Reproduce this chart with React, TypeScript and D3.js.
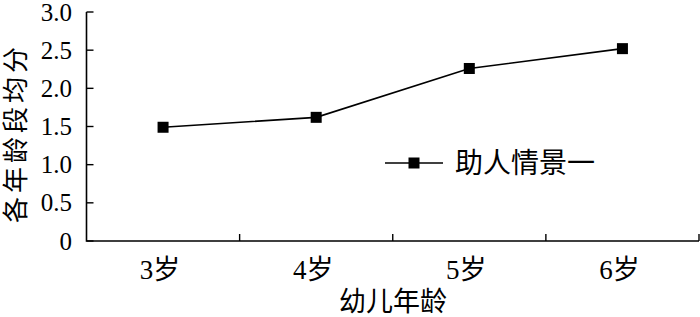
import React from "react";
import * as d3 from "d3";

const categories = ["3岁", "4岁", "5岁", "6岁"];
const values = [1.49, 1.62, 2.26, 2.52];
const yTicks = [0, 0.5, 1.0, 1.5, 2.0, 2.5, 3.0];
const seriesName = "助人情景一";
const xTitle = "幼儿年龄";
const yTitle = "各年龄段均分";

const W = 700;
const H = 317;
const left = 86.5;
const right = 699;
const top = 12;
const bottom = 241;
const FONT = "'Liberation Serif', 'Times New Roman', 'Noto Sans CJK SC', serif";

export default function App() {
  const x = d3.scaleBand<string>().domain(categories).range([left, right]);
  const y = d3.scaleLinear().domain([0, 3]).range([bottom, top]);
  const pts: [number, number][] = values.map((v, i) => [
    (x(categories[i]) as number) + x.bandwidth() / 2,
    y(v),
  ]);
  const line = d3.line();
  const xEdges = categories.map((c) => (x(c) as number) + x.bandwidth());

  return (
    <div style={{ position: "fixed", left: 0, top: 0 }}>
      <svg width={W} height={H} style={{ display: "block", background: "#fff" }}>
        {/* axes */}
        <path
          d={`M${left},${top}V${bottom}H${right}`}
          fill="none"
          stroke="#000"
          strokeWidth={1.6}
        />
        {yTicks.map((t) => (
          <g key={t}>
            <line x1={left} x2={left + 7} y1={y(t)} y2={y(t)} stroke="#000" strokeWidth={1.4} />
            <text
              x={72}
              y={y(t)}
              textAnchor="end"
              dominantBaseline="central"
              fontFamily={FONT}
              fontSize={25}
            >
              {t === 0 ? "0" : d3.format(".1f")(t)}
            </text>
          </g>
        ))}
        {xEdges.map((e, i) => (
          <line key={i} x1={e} x2={e} y1={bottom} y2={bottom - 7} stroke="#000" strokeWidth={1.4} />
        ))}
        {categories.map((c) => (
          <text
            key={c}
            x={(x(c) as number) + x.bandwidth() / 2 - 3}
            y={279}
            textAnchor="middle"
            fontFamily={FONT}
            fontSize={27}
          >
            {c}
          </text>
        ))}
        <text x={393} y={311} textAnchor="middle" fontFamily={FONT} fontSize={27}>
          {xTitle}
        </text>
        <text
          transform={`translate(25,133) rotate(-90)`}
          textAnchor="middle"
          fontFamily={FONT}
          fontSize={26}
          letterSpacing={4}
        >
          {yTitle}
        </text>
        {/* series */}
        <path d={line(pts) || ""} fill="none" stroke="#000" strokeWidth={1.6} />
        {pts.map((p, i) => (
          <rect key={i} x={p[0] - 5.5} y={p[1] - 5.5} width={11} height={11} fill="#000" />
        ))}
        {/* legend */}
        <line x1={385} x2={443} y1={163} y2={163} stroke="#000" strokeWidth={1.6} />
        <rect x={408.5} y={157.5} width={11} height={11} fill="#000" />
        <text x={455} y={163} dominantBaseline="central" fontFamily={FONT} fontSize={28}>
          {seriesName}
        </text>
      </svg>
    </div>
  );
}
